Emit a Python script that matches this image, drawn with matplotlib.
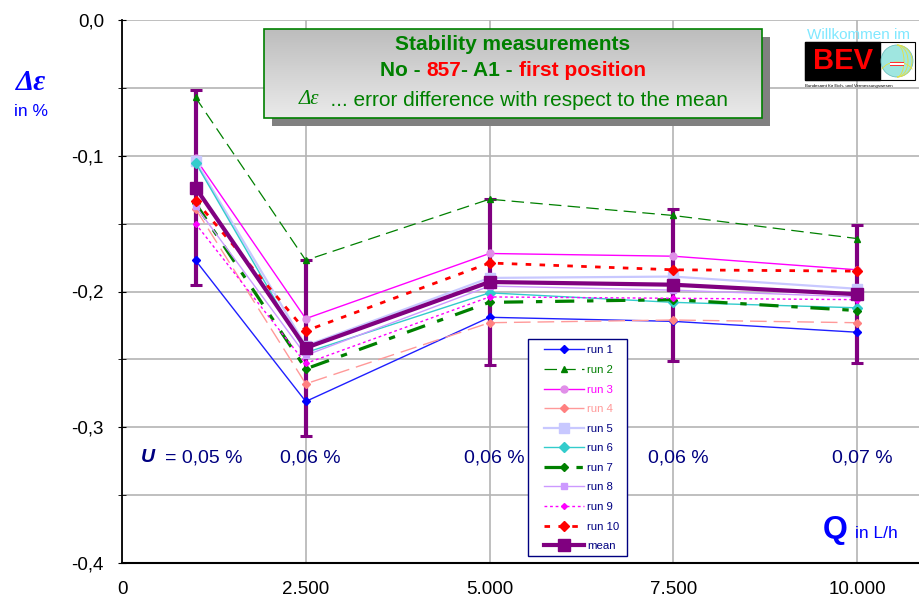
import numpy as np
import matplotlib
matplotlib.use("Agg")
from matplotlib import pyplot as plt
from matplotlib.patches import Rectangle, Circle, Arc

plt.rcParams['font.family'] = ['Liberation Sans', 'DejaVu Sans']

# flow rates in L/h
flow = [1000, 2500, 5000, 7500, 10000]

# error difference to the mean, in %
run1 = [-0.177, -0.281, -0.219, -0.222, -0.230]
run2 = [-0.057, -0.177, -0.132, -0.144, -0.161]
run3 = [-0.102, -0.220, -0.172, -0.174, -0.184]
run4 = [-0.139, -0.268, -0.223, -0.221, -0.223]
run5 = [-0.104, -0.240, -0.190, -0.189, -0.198]
run6 = [-0.105, -0.245, -0.201, -0.208, -0.212]
run7 = [-0.135, -0.257, -0.208, -0.206, -0.214]
run8 = [-0.137, -0.247, -0.196, -0.199, -0.204]
run9 = [-0.150, -0.253, -0.204, -0.205, -0.206]
run10 = [-0.133, -0.229, -0.179, -0.184, -0.185]
mean = [-0.1235, -0.2415, -0.193, -0.195, -0.202]
mean_err = [0.072, 0.065, 0.061, 0.056, 0.051]

u_text = ["0,05 %", "0,06 %", "0,06 %", "0,06 %", "0,07 %"]
x_ticks = [0, 2500, 5000, 7500, 10000]
x_ticklabels = ["0", "2.500", "5.000", "7.500", "10.000"]
y_ticks = [0.0, -0.1, -0.2, -0.3, -0.4]
y_ticklabels = ["0,0", "-0,1", "-0,2", "-0,3", "-0,4"]

W, H = 920, 601
fig = plt.figure(figsize=(W / 100, H / 100), dpi=100)
ax = fig.add_axes([122 / W, 38 / H, 798 / W, 543 / H])

navy = '#000080'
purple = '#800080'

# run styles: color, linestyle, lw, marker, markersize, markerface, label color
styles = [
    ('run 1', run1, '#1f1fff', '-', 1.0, 'D', 4, '#0000ff', navy),
    ('run 2', run2, '#008000', (0, (10, 5)), 0.9, '^', 4, '#008000', '#008000'),
    ('run 3', run3, '#ff00ff', '-', 1.0, 'o', 5, '#e08fe8', '#ff00ff'),
    ('run 4', run4, '#ff9999', (0, (12, 5)), 1.0, 'D', 4, '#ff8080', '#ff9999'),
    ('run 5', run5, '#c8c8ff', '-', 1.6, 's', 7, '#c8c8ff', navy),
    ('run 6', run6, '#33cccc', '-', 1.0, 'D', 5, '#33cccc', navy),
    ('run 7', run7, '#008000', (0, (6, 4, 2, 4)), 2.3, 'D', 4, '#008000', navy),
    ('run 8', run8, '#cc99ff', '-', 1.0, 's', 5, '#cc99ff', navy),
    ('run 9', run9, '#ff00ff', (0, (2, 2)), 1.0, 'D', 3, '#ff00ff', navy),
    ('run 10', run10, '#ff0000', (0, (2, 3)), 2.0, 'D', 5, '#ff0000', navy),
]

ax.errorbar(flow, mean, yerr=mean_err, fmt='none', ecolor=purple,
            elinewidth=3, capsize=4, capthick=2.2, zorder=3)

label_colors = []
for name, vals, col, ls, lw, mk, ms, mfc, tc in styles:
    ax.plot(flow, vals, color=col, linestyle=ls, lw=lw, marker=mk,
            markersize=ms, markerfacecolor=mfc, markeredgecolor=mfc,
            label=name, zorder=4)
    label_colors.append(tc)

ax.plot(flow, mean, color=purple, lw=3, marker='s', markersize=8,
        label='mean', zorder=5)
label_colors.append(navy)

ax.set_xlim(0, 10857)
ax.set_ylim(-0.4, 0.0)
ax.set_xticks(x_ticks)
ax.set_xticklabels(x_ticklabels)
ax.set_yticks(y_ticks)
ax.set_yticklabels(y_ticklabels)
ax.set_yticks(np.arange(-0.35, 0, 0.1), minor=True)
ax.tick_params(axis='x', length=0, pad=13, labelsize=13.5)
ax.tick_params(axis='y', which='both', direction='inout', length=6,
               pad=10, labelsize=13.5)
ax.grid(True, which='both', color='#b4b4b4', lw=1.2)
ax.set_axisbelow(True)
for s in ['top', 'right']:
    ax.spines[s].set_visible(False)
ax.spines['left'].set_linewidth(1.3)
ax.spines['bottom'].set_linewidth(1.5)

# uncertainty labels
u_y = -0.3225
ax.annotate("U", (flow[0], u_y), xytext=(-48, 0), textcoords='offset pixels',
            ha='center', va='center', fontsize=14, color=navy,
            fontweight='bold', fontstyle='italic')
ax.annotate("= " + u_text[0], (flow[0], u_y), xytext=(8, 0),
            textcoords='offset pixels', ha='center', va='center',
            fontsize=14, color=navy)
for xv, t in zip(flow[1:], u_text[1:]):
    ax.annotate(t, (xv, u_y), xytext=(5, 0), textcoords='offset pixels',
                ha='center', va='center', fontsize=14, color=navy)

# legend entries without frame; the frame is drawn separately below
leg = ax.legend(loc='upper left', bbox_to_anchor=(541 / W, 1 - 342 / H),
                bbox_transform=fig.transFigure, fontsize=8.2,
                handlelength=3.5, labelspacing=0.84, borderpad=0.3,
                borderaxespad=0, handletextpad=0.25, frameon=False)
for txt, c in zip(leg.get_texts(), label_colors):
    txt.set_color(c)

ax.add_patch(Rectangle((528 / W, 1 - 556 / H), 99 / W, 217 / H,
                       transform=fig.transFigure, facecolor='white',
                       edgecolor=navy, lw=1.0, zorder=6))
leg.set_zorder(7)

# overlay in pixel coordinates for the title box and logo
ov = fig.add_axes([0, 0, 1, 1], zorder=10)
ov.set_xlim(0, W)
ov.set_ylim(H, 0)
ov.axis('off')
ov.patch.set_alpha(0)

# axis captions
ov.text(31, 83, "Δε", color='#0000ff', fontsize=21, fontweight='bold',
        fontstyle='italic', family=['Liberation Serif', 'DejaVu Serif'],
        ha='center', va='center')
ov.text(31, 111, "in %", color='#0000ff', fontsize=12.5, ha='center',
        va='center')
ov.text(835, 530, "Q", color='#0000ff', fontsize=23, fontweight='bold',
        ha='center', va='center')
ov.text(855, 534, "in L/h", color='#0000ff', fontsize=12.5, ha='left',
        va='center')

# title box with shadow
bx0, by0, bx1, by1 = 264, 29, 762, 118
ov.add_patch(Rectangle((bx0 + 8, by0 + 8), bx1 - bx0, by1 - by0,
                       facecolor='#808080', edgecolor='none', zorder=1))
grad = np.linspace(0, 1, 100).reshape(-1, 1)
top_c = np.array([0.74, 0.74, 0.74])
bot_c = np.array([0.92, 0.92, 0.92])
img = top_c + grad[..., None] * (bot_c - top_c)
ov.imshow(img, extent=(bx0, bx1, by1, by0), aspect='auto', zorder=2)
ov.add_patch(Rectangle((bx0, by0), bx1 - bx0, by1 - by0, facecolor='none',
                       edgecolor='#008000', lw=1.2, zorder=3))
ov.set_xlim(0, W)
ov.set_ylim(H, 0)

green = '#008000'
red = '#ff0000'
ov.text(513, 44, "Stability measurements", color=green, fontsize=15,
        fontweight='bold', ha='center', va='center', zorder=4)

parts = [("No - ", green), ("857", red), ("- A1 - ", green),
         ("first position", red)]
fig.canvas.draw()
rend = fig.canvas.get_renderer()
texts = []
for s, c in parts:
    t = ov.text(0, 71, s, color=c, fontsize=15, fontweight='bold',
                ha='left', va='center', zorder=4)
    texts.append(t)
widths = [t.get_window_extent(rend).width for t in texts]
xpos = 513 - sum(widths) / 2
for t, w in zip(texts, widths):
    t.set_x(xpos)
    xpos += w

t1 = ov.text(0, 100, "Δε", color=green, fontsize=15, fontstyle='italic',
             family=['Liberation Serif', 'DejaVu Serif'], ha='left',
             va='center', zorder=4)
t2 = ov.text(0, 100, "  ... error difference with respect to the mean",
             color=green, fontsize=15, ha='left', va='center', zorder=4)
w1 = t1.get_window_extent(rend).width
w2 = t2.get_window_extent(rend).width
start = 513 - (w1 + w2) / 2
t1.set_x(start)
t2.set_x(start + w1)

# logo
ov.text(859, 35, "Willkommen im", color='#80e8ff', fontsize=11,
        ha='center', va='center')
ov.add_patch(Rectangle((805, 42), 110, 38, facecolor='white',
                       edgecolor='black', lw=0.8))
ov.add_patch(Rectangle((805, 42), 75, 38, facecolor='black',
                       edgecolor='black'))
ov.text(843, 61, "BEV", color='#ff0000', fontsize=21, fontweight='bold',
        ha='center', va='center')
ov.add_patch(Circle((897, 61), 16, facecolor='#9fe6e0', edgecolor='#70c0c0',
                    lw=0.6))
for w in [14, 22, 30]:
    ov.add_patch(Arc((897, 61), w, 32, theta1=-90, theta2=90,
                     color='#e8e040', lw=0.6))
ov.add_patch(Arc((897, 75), 34, 26, theta1=200, theta2=340,
                 color='#e8e040', lw=0.6))
ov.add_patch(Rectangle((890, 62), 14, 4, facecolor='#ff3030',
                       edgecolor='none'))
ov.add_patch(Rectangle((890, 63.3), 14, 1.4, facecolor='white',
                       edgecolor='none'))
ov.text(805, 86, "Bundesamt für Eich- und Vermessungswesen", color='black',
        fontsize=3.2, ha='left', va='center')

fig.savefig("out.png", dpi=100)
